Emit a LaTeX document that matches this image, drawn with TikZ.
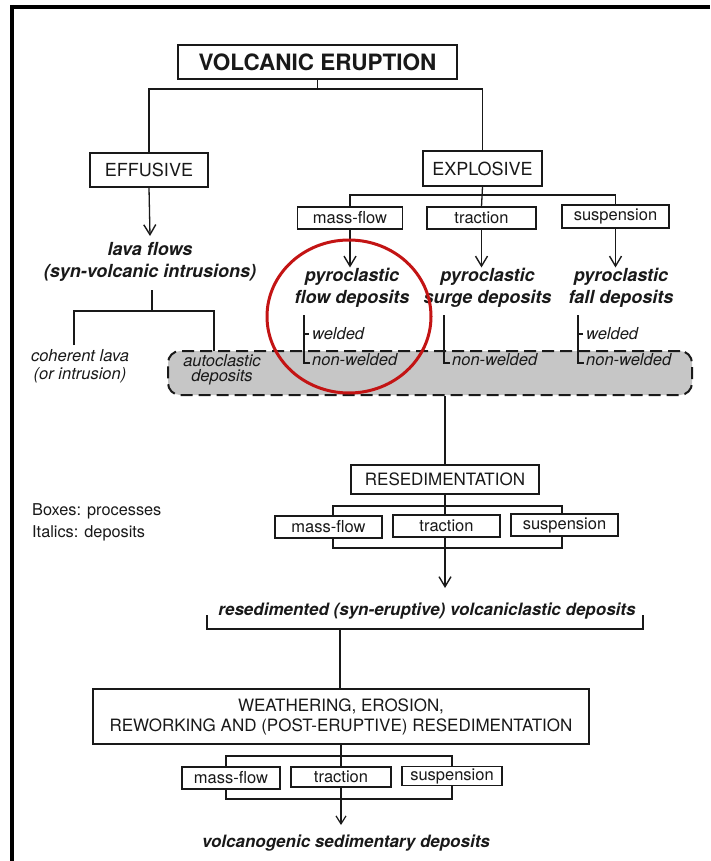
\documentclass[tikz,border=0pt]{standalone}
\usepackage{fontspec}
\setmainfont{TeX Gyre Heros}
\usetikzlibrary{arrows.meta}
\definecolor{ink}{RGB}{25,25,25}
\definecolor{bandgray}{RGB}{198,198,198}
\definecolor{circred}{RGB}{195,20,20}
\tikzset{
  conn/.style={draw=ink, line width=1.3pt},
  arr/.style={conn, -{Straight Barb[length=10pt,width=12pt,line width=1.4pt]}},
  sarr/.style={conn, -{Straight Barb[length=8pt,width=10pt,line width=1.2pt]}},
  proc/.style={draw=ink, line width=1.5pt, fill=white, inner sep=0pt, text=ink,
    font=\fontsize{18}{22}\selectfont},
  sproc/.style={proc, line width=1.3pt, font=\fontsize{16.5}{20}\selectfont},
  dep/.style={anchor=base, inner sep=0pt, text=ink, font=\bfseries\itshape\fontsize{18}{22}\selectfont},
  depm/.style={dep, font=\bfseries\itshape\fontsize{17}{20}\selectfont},
  ital/.style={anchor=base, inner sep=0pt, text=ink, font=\itshape\fontsize{16.5}{20}\selectfont},
  ilab/.style={anchor=base west, inner sep=0pt, text=ink, font=\itshape\fontsize{16.5}{20}\selectfont},
  legend/.style={anchor=base west, inner sep=0pt, text=ink, font=\fontsize{16.3}{20}\selectfont},
}
\begin{document}
\begin{tikzpicture}[x=1pt,y=-1pt]
\useasboundingbox (0,0) rectangle (710,861);
% frame
\draw[line width=4pt] (10,7) -- (710,7);
\draw[line width=4pt] (12,5) -- (12,861);

% ---- gray dashed band
\node[draw=ink, dash pattern=on 12pt off 6pt, line width=2pt, fill=bandgray,
  rounded corners=12pt, minimum width=524pt, minimum height=44pt, inner sep=0pt] (gb) at (430,373) {};

% ---- top level
\node[proc, line width=1.8pt, font=\bfseries\fontsize{22.5}{26}\selectfont,
  minimum width=279pt, minimum height=34pt] (ve) at (317.5,62) {VOLCANIC ERUPTION};
\node[proc, minimum width=118pt, minimum height=34pt] (eff) at (149,170) {EFFUSIVE};
\node[proc, minimum width=119pt, minimum height=35pt] (exp) at (482.5,168.5) {EXPLOSIVE};
\coordinate (vj) at (317.5,89);
\draw[conn] (ve.south) -- (vj);
\draw[conn] (eff.north) |- (vj) -| (exp.north);

% ---- effusive branch
\node[dep] (lava1) at (150,255) {lava flows};
\node[dep] (lava2) at (150,277) {(syn-volcanic intrusions)};
\coordinate (lavatip) at (150,236);
\draw[arr] (eff.south) -- (lavatip);
\coordinate (lj) at (152,311);
\coordinate (lavabot) at (152,290);
\draw[conn] (lavabot) -- (lj);
\node[ital] (coh1) at (80,361) {coherent lava};
\node[ital] (coh2) at (80,379) {(or intrusion)};
\node[ital] (auto1) at (222,366) {autoclastic};
\node[ital] (auto2) at (222,381) {deposits};
\coordinate (cohtop) at (74,345);
\coordinate (autotop) at (214,351);
\draw[conn] (cohtop) |- (lj) -| (autotop);

% ---- explosive branch
\node[sproc, minimum width=105pt, minimum height=22pt] (mf1) at (350,218) {mass-flow};
\node[sproc, minimum width=109pt, minimum height=22pt] (tr1) at (481.5,218) {traction};
\node[sproc, minimum width=107pt, minimum height=23pt] (su1) at (615.5,216.5) {suspension};
\coordinate (xj) at (481.5,195);
\draw[conn] (exp.south) -- (tr1.north);
\draw[conn] (mf1.north) |- (xj) -| (su1.north);

\node[dep] (pf1) at (352,281) {pyroclastic};
\node[dep] (pf2) at (352,303) {flow deposits};
\node[dep] (ps1) at (487.5,281) {pyroclastic};
\node[dep] (ps2) at (487.5,303) {surge deposits};
\node[dep] (pl1) at (621,281) {pyroclastic};
\node[dep] (pl2) at (621,303) {fall deposits};
\draw[arr] (mf1.south) -- (mf1.south |- pf1.north);
\draw[arr] (tr1.south) -- (tr1.south |- pf1.north);
\draw[arr] (su1.south) -- (su1.south |- pf1.north);

% welded / non-welded
\node[ilab] (w1) at (312,339) {welded};
\node[ilab] (nw1) at (312,365) {non-welded};
\node[ilab] (nw2) at (452,365) {non-welded};
\node[ilab] (w3) at (586,339) {welded};
\node[ilab] (nw3) at (586,365) {non-welded};
\coordinate (ft) at (304,315);
\coordinate (st) at (444,315);
\coordinate (lt) at (578,315);
\draw[conn] (ft) -- (304,363) -- (310,363);
\draw[conn] (ft |- 0,334) -- (309,334);
\draw[conn] (st) -- (444,363) -- (450,363);
\draw[conn] (lt) -- (578,363) -- (584,363);
\draw[conn] (lt |- 0,334) -- (583,334);

% ---- resedimentation
\node[proc, font=\fontsize{17}{20}\selectfont, minimum width=188pt, minimum height=29pt] (res) at (445,479.5) {RESEDIMENTATION};
\draw[conn] (gb.south -| res.north) -- (res.north);
\coordinate (rtip) at (445,588);
\draw[arr] (res.south) -- (rtip);
\draw[conn] (333,506) rectangle (562,548);
\node[sproc, minimum width=107pt, minimum height=22pt] (mf2) at (328.5,527) {mass-flow};
\node[sproc, minimum width=107pt, minimum height=22pt] (tr2) at (446.5,526) {traction};
\node[sproc, minimum width=107pt, minimum height=22pt] (su2) at (564.5,525) {suspension};

\node[depm] (rsd) at (427,615) {resedimented (syn-eruptive) volcaniclastic deposits};
\coordinate (ubl) at (207,615);
\coordinate (ubr) at (643,615);
\draw[conn] (ubl) -- (207,629) -- (643,629) -- (ubr);

% ---- weathering
\node[proc, font=\fontsize{17}{20}\selectfont, align=center, minimum width=496pt, minimum height=55pt]
  (wea) at (341,716.5) {WEATHERING, EROSION,\\REWORKING AND (POST-ERUPTIVE) RESEDIMENTATION};
\draw[conn] (340,629) -- (wea.north -| 340,0);
\coordinate (btip) at (341,825);
\draw[sarr] (wea.south) -- (btip);
\draw[conn] (226,756) rectangle (452,799);
\node[sproc, minimum width=98pt, minimum height=22pt] (mf3) at (231,778) {mass-flow};
\node[sproc, minimum width=100pt, minimum height=20pt] (tr3) at (341,777) {traction};
\node[sproc, minimum width=100pt, minimum height=19pt] (su3) at (452,776) {suspension};
\node[depm] (vsd) at (346,847) {volcanogenic sedimentary deposits};

% ---- legend
\node[legend] (lg1) at (32,515) {Boxes: processes};
\node[legend] (lg2) at (32,537) {Italics: deposits};

% ---- red circle
\draw[circred, line width=3pt] (349,316.5) ellipse [x radius=82pt, y radius=76.5pt];
\end{tikzpicture}
\end{document}
